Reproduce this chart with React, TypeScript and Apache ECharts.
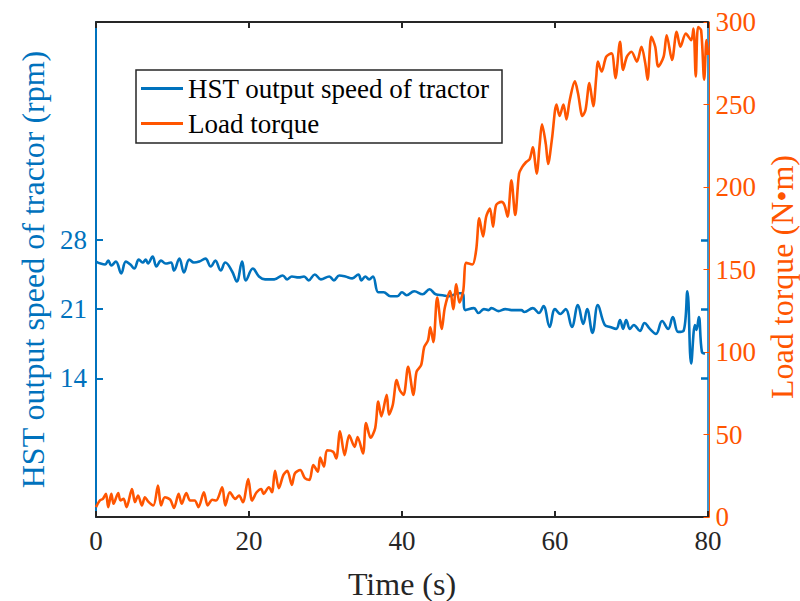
import React, { useEffect, useRef } from "react";
import * as echarts from "echarts";

const BLUE = "#0072BD";
const ORANGE = "#FF5500";
const DARK = "#262626";
const FONT = "Liberation Serif";

const xTicks = [0, 20, 40, 60, 80];
const speedTicks = [14, 21, 28];
const torqueTicks = [0, 50, 100, 150, 200, 250, 300];
const torqueAxisName = "Load torque (N\u2022m)";

const speedTime = [
  0.0, 0.6, 1.2, 1.6, 2.0, 2.6, 3.3, 3.9, 4.5, 5.0, 5.6, 6.1, 6.5, 6.8, 7.4, 7.9, 8.5, 9.1, 9.8, 10.2,
  10.9, 11.5, 12.2, 12.8, 13.5, 14.3, 15.0, 15.6, 16.3, 16.9, 17.8, 18.4, 19.1, 19.6, 20.5, 21.3, 22.1, 23.3, 24.4, 25.0,
  25.6, 26.5, 27.2, 27.8, 28.6, 29.4, 30.5, 31.1, 31.8, 32.6, 33.5, 34.3, 34.7, 35.2, 35.7, 36.2, 36.9, 37.6, 38.5, 39.4,
  40.0, 40.6, 41.6, 42.7, 43.6, 44.4, 45.3, 46.2, 47.3, 47.9, 48.3, 49.4, 50.0, 50.7, 51.3, 51.7, 52.6, 53.5, 54.3, 55.6,
  56.0, 57.1, 57.9, 58.5, 59.3, 60.0, 60.7, 61.4, 62.2, 63.0, 63.7, 64.2, 64.9, 65.6, 66.5, 67.2, 68.0, 68.5, 68.9, 69.3,
  69.8, 70.3, 71.1, 71.7, 72.4, 73.2, 74.0, 74.8, 75.4, 76.1, 76.8, 77.3, 77.8, 78.3, 78.5, 78.8, 79.2, 79.6,
];
const speedValues = [
  25.8, 25.6, 25.5, 25.9, 25.4, 25.8, 24.6, 25.8, 25.5, 25.1, 26.0, 25.7, 26.0, 25.6, 26.3, 25.3, 25.9, 25.6, 25.7, 24.9,
  26.1, 24.7, 26.0, 25.7, 25.8, 26.1, 25.3, 25.9, 24.9, 25.7, 24.8, 23.8, 25.8, 23.9, 25.1, 24.3, 24.0, 24.0, 24.4, 24.0,
  24.3, 24.2, 24.3, 23.9, 24.5, 24.0, 24.3, 23.9, 24.4, 24.3, 24.1, 24.5, 23.9, 24.3, 24.0, 24.3, 22.7, 22.7, 22.3, 22.3,
  22.7, 22.4, 22.8, 22.5, 23.0, 22.5, 22.4, 22.3, 22.6, 22.6, 20.9, 21.1, 20.6, 21.0, 20.9, 21.1, 20.8, 21.0, 20.9, 20.9,
  20.7, 21.1, 20.6, 21.3, 19.2, 21.0, 20.5, 21.0, 19.2, 21.4, 19.5, 21.0, 18.6, 21.4, 19.4, 19.2, 19.0, 19.9, 19.0, 19.9,
  19.0, 19.4, 18.8, 19.6, 19.0, 18.5, 19.8, 19.0, 20.2, 18.7, 18.8, 22.8, 15.5, 19.4, 18.9, 20.2, 16.7, 16.5,
];

const torqueTime = [
  0.0, 0.5, 0.9, 1.3, 1.6, 2.0, 2.3, 2.9, 3.2, 3.6, 4.0, 4.7, 5.1, 5.5, 6.0, 6.4, 6.8, 7.5, 8.1, 8.5,
  9.0, 9.7, 10.2, 10.8, 11.2, 11.8, 12.3, 12.9, 13.4, 14.1, 14.6, 15.2, 15.7, 16.5, 16.9, 17.5, 18.2, 18.7, 19.2, 19.9,
  20.4, 21.0, 21.6, 21.9, 22.6, 23.0, 23.4, 23.9, 24.5, 25.0, 25.6, 26.0, 26.7, 27.3, 27.9, 28.4, 29.0, 29.3, 29.8, 30.2,
  31.0, 31.4, 31.9, 32.5, 33.1, 33.8, 34.2, 34.9, 35.3, 35.9, 36.5, 36.9, 37.3, 38.0, 38.3, 38.8, 39.3, 39.7, 40.2, 40.8,
  41.5, 41.9, 42.5, 42.9, 43.4, 43.7, 44.1, 44.6, 45.2, 45.6, 46.3, 46.7, 47.1, 47.5, 48.0, 48.4, 49.2, 49.7, 50.1, 50.6,
  51.0, 51.5, 51.9, 52.3, 53.0, 53.4, 53.8, 54.3, 54.8, 55.3, 55.7, 56.2, 56.7, 57.1, 57.6, 58.0, 58.3, 58.8, 59.1, 59.6,
  60.2, 60.6, 61.1, 61.5, 61.9, 62.6, 63.0, 63.6, 64.0, 64.5, 65.0, 65.4, 65.6, 66.1, 66.7, 67.4, 67.9, 68.5, 68.9, 69.4,
  70.0, 70.7, 71.3, 71.8, 72.1, 72.6, 73.1, 73.5, 74.2, 74.6, 75.3, 75.9, 76.4, 77.1, 77.8, 78.1, 78.4, 78.7, 79.1, 79.5,
  79.8, 80.0,
];
const torqueValues = [
  6, 10, 11, 14, 6, 14, 8, 14.5, 10, 11, 6, 17, 9, 13, 7, 12, 9.5, 7, 19, 7,
  12, 10.5, 5.5, 14, 8, 14.5, 10, 10, 6, 15, 7, 10.5, 10, 18, 7, 15, 11, 13, 9, 23,
  10, 15, 17, 14, 18, 15, 28, 17.5, 25.5, 28, 19.5, 26.5, 28.5, 23.5, 22.5, 31.5, 27.5, 36, 30.5, 40.5,
  39.5, 35.5, 52, 37.5, 49.5, 42.5, 48.5, 38.5, 57, 48, 54, 70, 61, 74, 62, 68, 83, 77, 74, 91,
  74, 88, 92, 103, 107, 115, 106, 133, 114, 127, 137, 126, 141, 130, 137, 154, 153, 162, 181, 170,
  182, 187, 176, 189, 191, 189, 182, 204, 183, 208, 212, 215, 217, 224, 208, 226, 238, 226, 214, 229,
  250, 243, 250, 241, 252, 264, 257, 243, 247, 263, 249, 267, 276, 270, 279, 281, 266, 288, 271, 279,
  282, 276, 285, 275, 265, 291, 285, 273, 279, 292, 277, 294, 285, 293, 289, 296, 267, 297, 295, 265,
  289, 280,
];

const seriesNames = ["HST output speed of tractor", "Load torque"];

export default function App() {
  const ref = useRef<HTMLDivElement>(null);
  useEffect(() => {
    if (!ref.current) return;
    const chart = echarts.init(ref.current, undefined, { renderer: "svg" });
    const speedData = speedTime.map((t, i) => [t, speedValues[i]]);
    const torqueData = torqueTime.map((t, i) => [t, torqueValues[i]]);
    const tickFont = { fontFamily: FONT, fontSize: 27 };
    chart.setOption({
      animation: false,
      backgroundColor: "#ffffff",
      grid: { left: 96, right: 92, top: 22, bottom: 84, containLabel: false, outerBoundsMode: "none" },
      legend: {
        orient: "vertical",
        left: 141,
        top: 75,
        padding: 0,
        itemGap: 8,
        itemWidth: 42,
        itemHeight: 3,
        icon: "rect",
        z: 10,
        data: seriesNames,
        textStyle: { fontFamily: FONT, fontSize: 27, lineHeight: 27, color: "#000000", padding: [0, 0, 0, 0] },
      },
      graphic: [
        {
          type: "rect",
          z: 5,
          shape: { x: 136, y: 70, width: 366, height: 73 },
          style: { fill: "#ffffff", stroke: DARK, lineWidth: 1.5 },
        },
        {
          type: "text",
          z: 5,
          x: 782,
          y: 277,
          rotation: Math.PI / 2,
          style: {
            text: torqueAxisName,
            fontFamily: FONT,
            fontSize: 32,
            fill: ORANGE,
            align: "center",
            verticalAlign: "middle",
          },
        },
      ],
      xAxis: [
        {
          type: "value",
          position: "bottom",
          min: xTicks[0],
          max: xTicks[xTicks.length - 1],
          interval: 20,
          axisLine: { show: true, onZero: false, lineStyle: { color: DARK, width: 2 } },
          axisTick: { show: true, inside: true, length: 6, lineStyle: { color: DARK, width: 2 } },
          axisLabel: { ...tickFont, color: DARK, margin: 10 },
          splitLine: { show: false },
          name: "Time (s)",
          nameLocation: "middle",
          nameGap: 51,
          nameTextStyle: { fontFamily: FONT, fontSize: 32, color: DARK },
        },
        {
          type: "value",
          position: "top",
          min: xTicks[0],
          max: xTicks[xTicks.length - 1],
          interval: 20,
          axisLine: { show: true, onZero: false, lineStyle: { color: DARK, width: 2 } },
          axisTick: { show: true, inside: true, length: 6, lineStyle: { color: DARK, width: 2 } },
          axisLabel: { show: false },
          splitLine: { show: false },
        },
      ],
      yAxis: [
        {
          type: "value",
          position: "left",
          min: 0,
          max: 50,
          interval: 7,
          axisLine: { show: true, onZero: false, lineStyle: { color: BLUE, width: 2 } },
          axisTick: { show: true, inside: true, length: 7, customValues: speedTicks, lineStyle: { color: BLUE, width: 2 } },
          axisLabel: { ...tickFont, color: BLUE, margin: 9, customValues: speedTicks },
          splitLine: { show: false },
          name: "HST output speed of tractor (rpm)",
          nameLocation: "middle",
          nameGap: 46,
          nameTextStyle: { fontFamily: FONT, fontSize: 32, color: BLUE },
        },
        {
          type: "value",
          position: "right",
          offset: 1.5,
          min: torqueTicks[0],
          max: torqueTicks[torqueTicks.length - 1],
          interval: 50,
          axisLine: { show: true, onZero: false, lineStyle: { color: ORANGE, width: 1 } },
          axisTick: { show: true, inside: true, length: 6, lineStyle: { color: ORANGE, width: 1 } },
          axisLabel: { ...tickFont, color: ORANGE, margin: 6 },
          splitLine: { show: false },
        },
        {
          type: "value",
          position: "right",
          offset: 0,
          min: 0,
          max: 50,
          interval: 7,
          axisLine: { show: true, onZero: false, lineStyle: { color: BLUE, width: 1.5 } },
          axisTick: { show: true, inside: true, length: 7, customValues: speedTicks, lineStyle: { color: BLUE, width: 2.5 } },
          axisLabel: { show: false },
          splitLine: { show: false },
        },
      ],
      series: [
        {
          name: seriesNames[0],
          type: "line",
          xAxisIndex: 0,
          yAxisIndex: 0,
          data: speedData,
          showSymbol: false,
          smooth: 0.4,
          lineStyle: { color: BLUE, width: 2.6 },
          itemStyle: { color: BLUE },
        },
        {
          name: seriesNames[1],
          type: "line",
          xAxisIndex: 0,
          yAxisIndex: 1,
          data: torqueData,
          showSymbol: false,
          smooth: 0.3,
          lineStyle: { color: ORANGE, width: 2.6 },
          itemStyle: { color: ORANGE },
        },
      ],
    });
    return () => chart.dispose();
  }, []);
  return <div ref={ref} style={{ position: "fixed", left: 0, top: 0, width: 800, height: 601 }} />;
}
